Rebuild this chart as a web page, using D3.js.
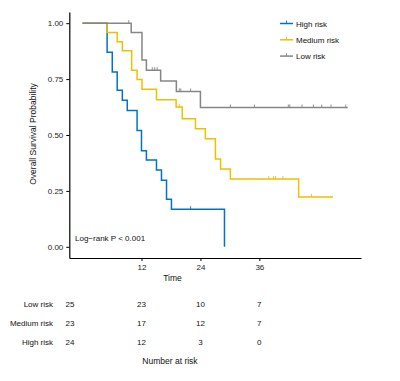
<!DOCTYPE html>
<html>
<head>
<meta charset="utf-8">
<script src="https://cdn.jsdelivr.net/npm/d3@7"></script>
<style>
  body { margin: 0; background: #fff; }
  svg { font-family: "Liberation Sans", Arial, sans-serif; }
  .axis text { font-size: 8px; fill: #222; }
  .axis path, .axis line { stroke: #000; }
  .axis path { stroke-width: 1.2; }
  .lbl { font-size: 8px; fill: #111; }
</style>
</head>
<body>
<svg id="chart" width="400" height="381"></svg>
<script>
// survival steps: [month, survival after the event]
const lowSteps = [[0, 1], [9.9, 0.958], [12.1, 0.835], [13, 0.79], [15.9, 0.742], [19.1, 0.695], [24, 0.623]];
const lowEnd = 54;
const lowCensor = [9.4, 14.2, 14.7, 15.2, 19.7, 20, 22, 30.1, 35, 41.9, 42.2, 44.7, 47, 48.7, 50.6, 53.6];

const medSteps = [[0, 1], [5, 0.958], [7.05, 0.917], [8.1, 0.877], [10, 0.79], [11.1, 0.748], [12.1, 0.705],
  [15.05, 0.658], [19.05, 0.625], [20.3, 0.573], [23, 0.528], [25, 0.483], [27.05, 0.393], [28.1, 0.348],
  [30.1, 0.303], [44, 0.223]];
const medEnd = 51;
const medCensor = [19.7, 37.9, 38.9, 39.3, 40.8, 46.6];

const highSteps = [[0, 1], [5, 0.87], [6.05, 0.782], [7.05, 0.7], [8.1, 0.655], [9.1, 0.61], [11.1, 0.52],
  [12, 0.43], [13, 0.388], [15.05, 0.343], [16.07, 0.298], [17.1, 0.213], [18.1, 0.168], [28.9, 0]];
const highEnd = 28.9;
const highCensor = [22];

const riskTimes = [0, 12, 24, 36];
const riskLow = [25, 23, 10, 7];
const riskMed = [23, 17, 12, 7];
const riskHigh = [24, 12, 3, 0];

const yTicks = [0, 0.25, 0.5, 0.75, 1];
const xTicks = [12, 24, 36];

const series = [
  { name: "High risk", color: "#0073C2", steps: highSteps, end: highEnd, censor: highCensor },
  { name: "Medium risk", color: "#EFC000", steps: medSteps, end: medEnd, censor: medCensor },
  { name: "Low risk", color: "#868686", steps: lowSteps, end: lowEnd, censor: lowCensor },
];

const svg = d3.select("#chart");

const x = d3.scaleLinear().domain([-2.7, 56.7]).range([69.3, 361]);
const y = d3.scaleLinear().domain([-0.05, 1.05]).range([258, 12]);

function survivalAt(steps, t) {
  let s = steps[0][1];
  steps.forEach((d) => { if (d[0] <= t) s = d[1]; });
  return s;
}

// axes
svg.append("g")
  .attr("class", "axis")
  .attr("transform", "translate(69.3,0)")
  .call(d3.axisLeft(y).tickValues(yTicks).tickFormat(d3.format(".2f")).tickSize(3).tickSizeOuter(0));

svg.append("g")
  .attr("class", "axis")
  .attr("transform", "translate(0,258)")
  .call(d3.axisBottom(x).tickValues(xTicks).tickSize(3).tickSizeOuter(0));

// curves
const line = d3.line()
  .x((d) => x(d[0]))
  .y((d) => y(d[1]))
  .curve(d3.curveStepAfter);

series.forEach((s) => {
  const pts = s.steps.concat([[s.end, s.steps[s.steps.length - 1][1]]]);
  svg.append("path")
    .attr("d", line(pts))
    .attr("fill", "none")
    .attr("stroke", s.color)
    .attr("stroke-width", 1.5);

  svg.append("g")
    .selectAll("line")
    .data(s.censor)
    .join("line")
    .attr("x1", (t) => x(t))
    .attr("x2", (t) => x(t))
    .attr("y1", (t) => y(survivalAt(s.steps, t)) - 3)
    .attr("y2", (t) => y(survivalAt(s.steps, t)))
    .attr("stroke", s.color)
    .attr("stroke-width", 0.9);
});

// axis titles
svg.append("text")
  .attr("class", "lbl")
  .attr("transform", "translate(36,134) rotate(-90)")
  .attr("text-anchor", "middle")
  .style("font-size", "8.5px")
  .text("Overall Survival Probability");

svg.append("text")
  .attr("class", "lbl")
  .attr("x", 172.5)
  .attr("y", 281)
  .attr("text-anchor", "middle")
  .style("font-size", "8.5px")
  .text("Time");

svg.append("text")
  .attr("class", "lbl")
  .attr("x", 75)
  .attr("y", 241)
  .text("Log\u2212rank P < 0.001");

// legend
const legend = svg.append("g")
  .selectAll("g")
  .data(series)
  .join("g")
  .attr("transform", (d, i) => `translate(280,${23.5 + i * 16.3})`);

legend.append("line")
  .attr("x1", 0).attr("x2", 13)
  .attr("stroke", (d) => d.color)
  .attr("stroke-width", 1.5);
legend.append("line")
  .attr("x1", 6.5).attr("x2", 6.5).attr("y1", -3).attr("y2", 0)
  .attr("stroke", (d) => d.color)
  .attr("stroke-width", 0.9);
legend.append("text")
  .attr("class", "lbl")
  .attr("x", 16)
  .attr("y", 3)
  .text((d) => d.name);

// number at risk table
const tx = d3.scaleLinear().domain([0, 12, 36]).range([70, x(12), x(36)]);
const rows = [
  { name: "Low risk", values: riskLow },
  { name: "Medium risk", values: riskMed },
  { name: "High risk", values: riskHigh },
];
const ty = d3.scalePoint().domain(rows.map((r) => r.name)).range([303.5, 341.5]);

rows.forEach((r) => {
  svg.append("text")
    .attr("class", "lbl")
    .attr("x", 53)
    .attr("y", ty(r.name) + 3)
    .attr("text-anchor", "end")
    .text(r.name);

  svg.append("g")
    .selectAll("text")
    .data(r.values)
    .join("text")
    .attr("class", "lbl")
    .attr("x", (v, i) => tx(riskTimes[i]))
    .attr("y", ty(r.name) + 3)
    .attr("text-anchor", "middle")
    .text((v) => v);
});

svg.append("text")
  .attr("class", "lbl")
  .attr("x", 170)
  .attr("y", 364)
  .attr("text-anchor", "middle")
  .style("font-size", "8.5px")
  .text("Number at risk");
</script>
</body>
</html>
